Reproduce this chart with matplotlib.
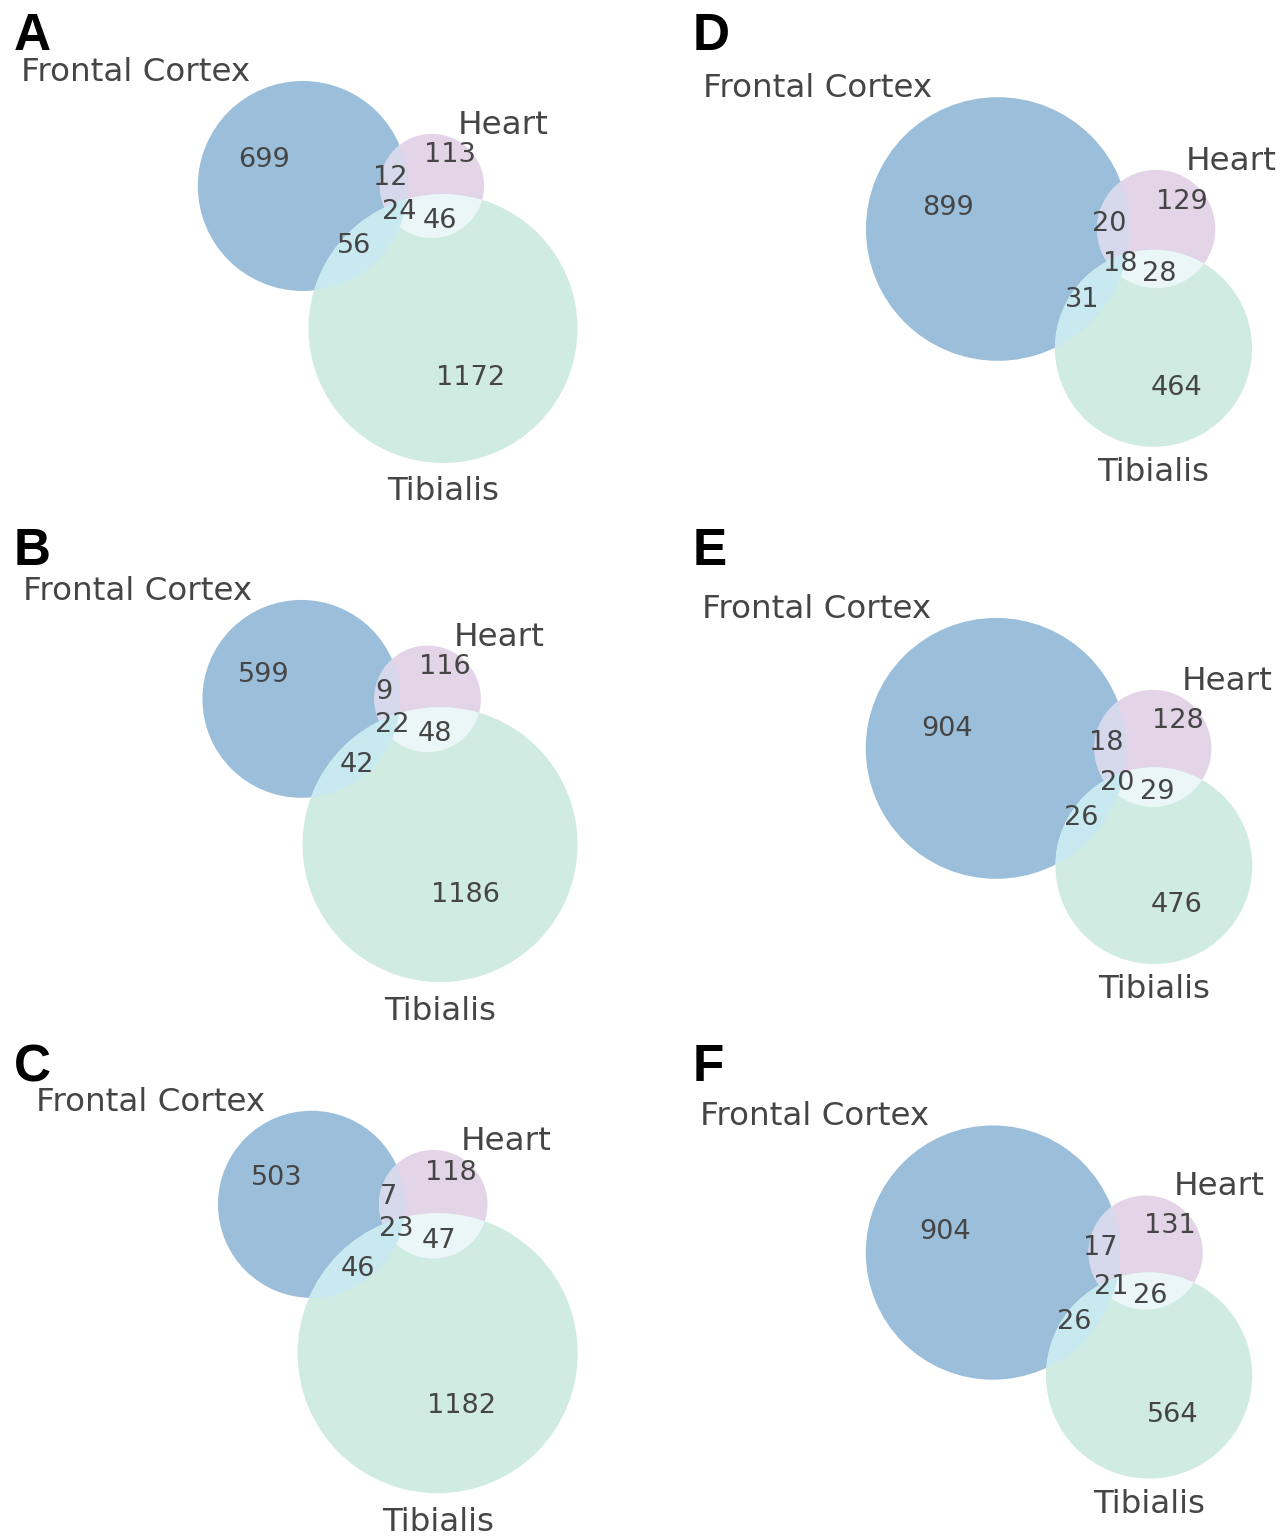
import numpy as np
import matplotlib.pyplot as plt
from matplotlib.patches import Circle, Polygon

plt.rcParams['font.family'] = 'DejaVu Sans'

set_names = ['Frontal Cortex', 'Heart', 'Tibialis']
panel_letters = ['A', 'B', 'C', 'D', 'E', 'F']

# subset sizes: FC only, Heart only, FC&Heart, Tib only, FC&Tib, Heart&Tib, all three
counts_A = [699, 113, 12, 1172, 56, 46, 24]
counts_B = [599, 116, 9, 1186, 42, 48, 22]
counts_C = [503, 118, 7, 1182, 46, 47, 23]
counts_D = [899, 129, 20, 464, 31, 28, 18]
counts_E = [904, 128, 18, 476, 26, 29, 20]
counts_F = [904, 131, 17, 564, 26, 26, 21]
panels = [counts_A, counts_B, counts_C, counts_D, counts_E, counts_F]

subset_keys = ['100', '010', '110', '001', '101', '011', '111']
region_colors = {'100': '#9bbfdb', '010': '#e3d4e8', '001': '#d0ebe2',
                 '110': '#d5d9eb', '101': '#c9e9f1', '011': '#eaf6f8',
                 '111': '#c9e9f1'}
text_color = '#454545'


def overlap_area(r1, r2, d):
    if d >= r1 + r2:
        return 0.0
    if d <= abs(r1 - r2):
        return np.pi * min(r1, r2) ** 2
    a1 = np.arccos((d * d + r1 * r1 - r2 * r2) / (2 * d * r1))
    a2 = np.arccos((d * d + r2 * r2 - r1 * r1) / (2 * d * r2))
    k = np.sqrt((-d + r1 + r2) * (d + r1 - r2) * (d - r1 + r2) * (d + r1 + r2))
    return r1 * r1 * a1 + r2 * r2 * a2 - 0.5 * k


def dist_for_area(r1, r2, area):
    lo, hi = abs(r1 - r2), r1 + r2
    for _ in range(100):
        mid = 0.5 * (lo + hi)
        if overlap_area(r1, r2, mid) > area:
            lo = mid
        else:
            hi = mid
    return 0.5 * (lo + hi)


def layout(counts):
    s = np.array(counts, float) / sum(counts)
    a, b, ab, c, ac, bc, abc = s
    radii = np.sqrt(np.array([a + ab + ac + abc, b + ab + bc + abc, c + ac + bc + abc]) / np.pi)
    d_ab = dist_for_area(radii[0], radii[1], ab + abc)
    d_bc = dist_for_area(radii[1], radii[2], bc + abc)
    d_ac = dist_for_area(radii[0], radii[2], ac + abc)
    cx = (d_ac ** 2 - d_bc ** 2 + d_ab ** 2) / (2 * d_ab)
    cy = -np.sqrt(d_ac ** 2 - cx ** 2)
    centers = np.array([[0.0, 0.0], [d_ab, 0.0], [cx, cy]])
    w = radii ** 2
    centers -= w @ centers / w.sum()
    return centers, radii


def crossings(c1, r1, c2, r2):
    d = np.linalg.norm(c2 - c1)
    x = (d * d + r1 * r1 - r2 * r2) / (2 * d)
    h = np.sqrt(max(r1 * r1 - x * x, 0.0))
    u = (c2 - c1) / d
    v = np.array([-u[1], u[0]])
    return [c1 + x * u + h * v, c1 + x * u - h * v]


def arc_label(key, centers, radii, n=3600):
    # weighted between the middle of the longest boundary arc and the corner points
    bits = [b == '1' for b in key]

    def inside(p, m):
        return np.linalg.norm(p - centers[m]) < radii[m]

    verts = []
    for m, k, l in [(0, 1, 2), (0, 2, 1), (1, 2, 0)]:
        for p in crossings(centers[m], radii[m], centers[k], radii[k]):
            if inside(p, l) == bits[l]:
                verts.append(p)

    t = np.linspace(0, 2 * np.pi, n, endpoint=False)
    best_len, best_mid = -1.0, None
    for m in range(3):
        pts = centers[m] + radii[m] * np.c_[np.cos(t), np.sin(t)]
        on = np.ones(n, bool)
        for o in range(3):
            if o != m:
                on &= (np.linalg.norm(pts - centers[o], axis=1) < radii[o]) == bits[o]
        if not on.any() or on.all():
            continue
        shift = int(np.argmin(on))
        on = np.roll(on, -shift)
        pts = np.roll(pts, -shift, axis=0)
        run_start = None
        for idx, f in enumerate(on):
            if f:
                if run_start is None:
                    run_start = idx
                length = (idx - run_start + 1) * radii[m]
                if length > best_len:
                    best_len = length
                    best_mid = pts[run_start + (idx - run_start) // 2]
            else:
                run_start = None
    return (2 * best_mid + np.mean(verts, axis=0)) / 3


def region_centroids(centers, radii, n=700):
    lo = (centers - radii[:, None]).min(0)
    hi = (centers + radii[:, None]).max(0)
    X, Y = np.meshgrid(np.linspace(lo[0], hi[0], n), np.linspace(lo[1], hi[1], n))
    ins = [(X - c[0]) ** 2 + (Y - c[1]) ** 2 < r ** 2 for c, r in zip(centers, radii)]
    out = {}
    for key in subset_keys:
        m = np.ones_like(X, bool)
        for bit, inside in zip(key, ins):
            m &= inside if bit == '1' else ~inside
        out[key] = np.array([X[m].mean(), Y[m].mean()])
    return out


def lens(c1, r1, c2, r2, n=720):
    t = np.linspace(0, 2 * np.pi, n, endpoint=False)
    p1 = c1 + r1 * np.c_[np.cos(t), np.sin(t)]
    p2 = c2 + r2 * np.c_[np.cos(t), np.sin(t)]
    pts = np.vstack([p1[np.linalg.norm(p1 - c2, axis=1) <= r2],
                     p2[np.linalg.norm(p2 - c1, axis=1) <= r1]])
    m = pts.mean(0)
    order = np.argsort(np.arctan2(pts[:, 1] - m[1], pts[:, 0] - m[0]))
    return pts[order]


def draw_venn(ax, counts):
    centers, radii = layout(counts)
    tr = ax.transData

    for i, key in enumerate(['100', '010', '001']):
        ax.add_patch(Circle(centers[i], radii[i], fc=region_colors[key], ec='none'))
    for (i, j), key in zip([(0, 1), (0, 2), (1, 2)], ['110', '101', '011']):
        clip = Circle(centers[i], radii[i], transform=tr)
        p = ax.add_patch(Circle(centers[j], radii[j], fc=region_colors[key], ec='none'))
        p.set_clip_path(clip)
    clip = Polygon(lens(centers[0], radii[0], centers[1], radii[1]), closed=True, transform=tr)
    p = ax.add_patch(Circle(centers[2], radii[2], fc=region_colors['111'], ec='none'))
    p.set_clip_path(clip)

    cents = region_centroids(centers, radii)
    for key, val in zip(subset_keys, counts):
        pos = arc_label(key, centers, radii)
        if key.count('1') > 1:
            pos = 0.5 * (pos + cents[key])
        ax.text(pos[0], pos[1], str(val), ha='center', va='center',
                fontsize=19.5, color=text_color)

    ax.text(centers[0][0] - radii[0] / 2, centers[0][1] + radii[0], set_names[0],
            ha='right', va='baseline', fontsize=23.4, color=text_color)
    ax.text(centers[1][0] + radii[1] / 2, centers[1][1] + radii[1], set_names[1],
            ha='left', va='baseline', fontsize=23.4, color=text_color)
    ax.text(centers[2][0], centers[2][1] - radii[2] * 1.1, set_names[2],
            ha='center', va='top', fontsize=23.4, color=text_color)

    lo = (centers - radii[:, None]).min(0)
    hi = (centers + radii[:, None]).max(0)
    ax.set_xlim(lo[0] - 0.1, hi[0] + 0.1)
    ax.set_ylim(lo[1] - 0.1, hi[1] + 0.1)
    ax.set_aspect('equal')
    ax.set_anchor('E')
    ax.set_axis_off()


W, H = 1286, 1537
fig = plt.figure(figsize=(W / 100, H / 100), dpi=100)
col_right = [608, 1282]
row_y = [272, 791, 1302]
letter_x = [14, 693]
letter_base = [50, 565, 1081]
box_w, box_h = 446, 443

for idx, counts in enumerate(panels):
    col, row = idx // 3, idx % 3
    x0, cy = col_right[col] - box_w, row_y[row]
    ax = fig.add_axes([x0 / W, 1 - (cy + box_h / 2) / H, box_w / W, box_h / H])
    draw_venn(ax, counts)
    fig.text(letter_x[col] / W, 1 - letter_base[row] / H, panel_letters[idx],
             fontsize=37, fontweight='bold', family='Liberation Sans',
             ha='left', va='baseline', color='black')

fig.savefig('out.png', dpi=100)
